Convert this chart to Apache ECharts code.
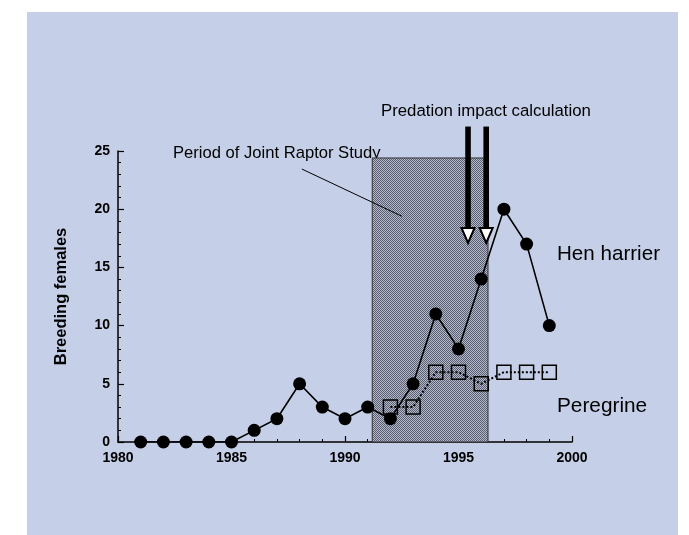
<!DOCTYPE html>
<html>
<head>
<meta charset="utf-8">
<script src="https://cdn.jsdelivr.net/npm/echarts@6/dist/echarts.min.js"></script>
<style>
html,body{margin:0;padding:0;background:#fff;}
#wrap{position:absolute;left:27px;top:12px;width:651px;height:523px;background:#C5CFE7;}
#main{position:absolute;left:0;top:0;width:689px;height:535px;}
</style>
</head>
<body>
<div id="wrap"></div>
<div id="main"></div>
<script>
var years = [1981,1982,1983,1984,1985,1986,1987,1988,1989,1990,1991,1992,1993,1994,1995,1996,1997,1998,1999];
var henHarrier = [0,0,0,0,0,1,2,5,3,2,3,2,5,11,8,14,20,17,10];
var peregrineYears = [1992,1993,1994,1995,1996,1997,1998,1999];
var peregrine = [3,3,6,6,5,6,6,6];
var studyPeriod = [1991.2, 1996.3];
var studyTop = 24.4;
var arrowYears = [1995.42, 1996.22];
var arrowTop = 27.1;
var arrowTip = 17.1;
var leader = [[1988.1, 23.45],[1992.5, 19.4]];

var FONT = 'Liberation Sans, Arial, sans-serif';

// stipple pattern
var pc = document.createElement('canvas');
pc.width = 2; pc.height = 2;
var pctx = pc.getContext('2d');
pctx.fillStyle = '#B5BACB'; pctx.fillRect(0,0,2,2);
pctx.fillStyle = '#585D72'; pctx.fillRect(0,0,1,1); pctx.fillRect(1,1,1,1);

var chart = echarts.init(document.getElementById('main'));
var option = {
  backgroundColor: 'transparent',
  animation: false,
  grid: {left: 118, right: 117, top: 151, bottom: 93},
  xAxis: {
    type: 'value', min: 1980, max: 2000, interval: 5,
    axisLine: {lineStyle: {color: '#000', width: 1.5}},
    axisTick: {inside: true, length: 6, lineStyle: {color: '#000', width: 1.2}},
    minorTick: {show: true, splitNumber: 5, length: 3, lineStyle: {color: '#000', width: 1}},
    splitLine: {show: false},
    axisLabel: {color: '#000', fontFamily: FONT, fontWeight: 'bold', fontSize: 14, margin: 9,
      formatter: function(v){return String(v);}}
  },
  yAxis: {
    type: 'value', min: 0, max: 25, interval: 5,
    name: 'Breeding females', nameLocation: 'middle', nameGap: 48,
    nameTextStyle: {color: '#000', fontFamily: FONT, fontWeight: 'bold', fontSize: 16.5},
    axisLine: {show: true, lineStyle: {color: '#000', width: 1.5}},
    axisTick: {show: true, inside: true, length: 6, lineStyle: {color: '#000', width: 1.2}},
    minorTick: {show: true, splitNumber: 5, length: 3, lineStyle: {color: '#000', width: 1}},
    splitLine: {show: false},
    axisLabel: {color: '#000', fontFamily: FONT, fontWeight: 'bold', fontSize: 14, margin: 8}
  },
  series: [
    {
      type: 'line', data: [], z: 1,
      markArea: {
        silent: true,
        itemStyle: {color: {image: pc, repeat: 'repeat'}, borderColor: '#333', borderWidth: 1},
        data: [[{coord: [studyPeriod[0], 0]}, {coord: [studyPeriod[1], studyTop]}]]
      },
      markLine: {
        silent: true, symbol: ['none','none'],
        lineStyle: {color: '#000', width: 1, type: 'solid'},
        label: {show: false},
        data: [[{coord: leader[0]}, {coord: leader[1]}]]
      }
    },
    {
      name: 'Peregrine', type: 'line', z: 3,
      data: peregrineYears.map(function(y,i){return [y, peregrine[i]];}),
      symbol: 'rect', symbolSize: 14,
      itemStyle: {color: 'rgba(0,0,0,0)', borderColor: '#000', borderWidth: 1.5},
      lineStyle: {color: '#000', width: 2, type: 'dotted'}
    },
    {
      name: 'Hen harrier', type: 'line', z: 4,
      data: years.map(function(y,i){return [y, henHarrier[i]];}),
      symbol: 'circle', symbolSize: 13,
      itemStyle: {color: '#000'},
      lineStyle: {color: '#000', width: 1.6}
    },
    {
      type: 'custom', z: 5, clip: false,
      data: arrowYears.map(function(y){return [y, arrowTop, arrowTip];}),
      renderItem: function(params, api){
        var top = api.coord([api.value(0), api.value(1)]);
        var tip = api.coord([api.value(0), api.value(2)]);
        var headH = 15, headW = 13;
        return {
          type: 'group',
          children: [
            {type: 'rect', shape: {x: top[0]-2.8, y: top[1], width: 5.6, height: tip[1]-headH-top[1]+1}, style: {fill: '#000'}},
            {type: 'polygon', shape: {points: [[tip[0]-headW/2, tip[1]-headH],[tip[0]+headW/2, tip[1]-headH],[tip[0], tip[1]]]},
             style: {fill: '#fff', stroke: '#000', lineWidth: 2}}
          ]
        };
      }
    }
  ],
  graphic: [
    {type: 'text', left: 173, top: 145, style: {text: 'Period of Joint Raptor Study', font: '16.6px ' + FONT, fill: '#000'}},
    {type: 'text', left: 381, top: 103, style: {text: 'Predation impact calculation', font: '16.8px ' + FONT, fill: '#000'}},
    {type: 'text', left: 557, top: 244, style: {text: 'Hen harrier', font: '20.6px ' + FONT, fill: '#000'}},
    {type: 'text', left: 557, top: 396, style: {text: 'Peregrine', font: '20.8px ' + FONT, fill: '#000'}}
  ]
};
chart.setOption(option);
</script>
</body>
</html>
